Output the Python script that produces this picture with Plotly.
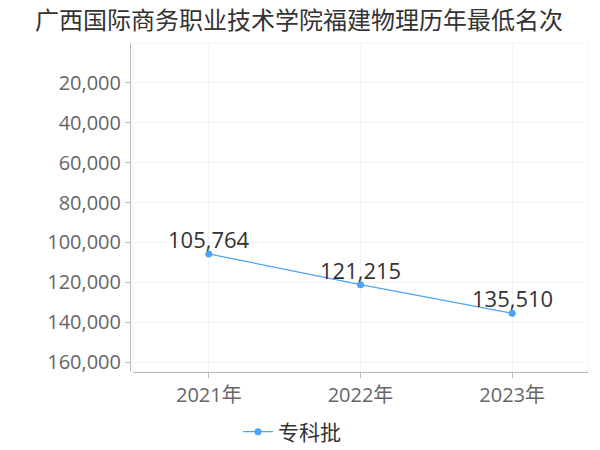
import plotly.graph_objects as go

years = ["2021年", "2022年", "2023年"]
ranks = [105764, 121215, 135510]
series_name = "专科批"
title = "广西国际商务职业技术学院福建物理历年最低名次"
ytick_vals = [20000, 40000, 60000, 80000, 100000, 120000, 140000, 160000]

FONT = "Open Sans, Noto Sans CJK SC, sans-serif"
CJK = "Noto Sans CJK SC, sans-serif"
OFF = 8  # page body margin
W, H = 600 - OFF, 450 - OFF
ml, mr, mt, mb = 130 - OFF, 12, 43 - OFF, 78
pw = W - ml - mr
ph = H - mt - mb
gap = 3 / pw

fig = go.Figure()
fig.add_trace(go.Scatter(
    x=years, y=ranks, mode="lines+markers", name=series_name,
    line=dict(color="#4da3f5", width=1.2),
    marker=dict(color="#4da3f5", size=7),
    cliponaxis=False,
))

for yr, v in zip(years, ranks):
    fig.add_annotation(x=yr, y=v, text=f"{v:,}", showarrow=False,
                       xanchor="center", yanchor="bottom", yshift=-2,
                       font=dict(size=22, color="#333333", family=FONT))

fig.update_layout(
    width=W, height=H,
    margin=dict(l=ml, r=mr, t=mt, b=mb, autoexpand=False),
    paper_bgcolor="white", plot_bgcolor="white",
    font=dict(family=FONT, color="#666666"),
    title=dict(text=title, xref="container", x=(299 - OFF) / W, xanchor="center",
               y=1 - (21 - OFF) / H, yanchor="middle",
               font=dict(size=24, color="#333333", family=CJK)),
    showlegend=True,
    legend=dict(orientation="h", x=(292 - OFF - ml) / pw, xanchor="center",
                y=-(432 - OFF - (mt + ph)) / ph, yanchor="middle",
                font=dict(size=21, color="#333333", family=CJK)),
    xaxis=dict(
        domain=[gap, 1], type="category", range=[-0.5, 2.5],
        showgrid=True, gridcolor="#f2f2f2", gridwidth=1,
        showline=True, linecolor="#bbbbbb", linewidth=1,
        ticks="outside", ticklen=5, tickcolor="#bbbbbb",
        tickfont=dict(size=20, color="#666666"),
        zeroline=False, fixedrange=True, automargin=False,
    ),
    yaxis=dict(
        range=[165000, 0], anchor="free", position=0,
        tickvals=ytick_vals, tickformat=",",
        showgrid=True, gridcolor="#f2f2f2", gridwidth=1,
        showline=True, linecolor="#bbbbbb", linewidth=1,
        ticks="outside", ticklen=5, tickcolor="#bbbbbb",
        tickfont=dict(size=20, color="#666666"),
        zeroline=False, fixedrange=True, automargin=False,
    ),
)

# light border around the plot area
fig.add_shape(type="rect", xref="paper", yref="paper", x0=gap, x1=1, y0=0, y1=1,
              line=dict(color="#f2f2f2", width=1), layer="below")

fig.write_html("out.html")
